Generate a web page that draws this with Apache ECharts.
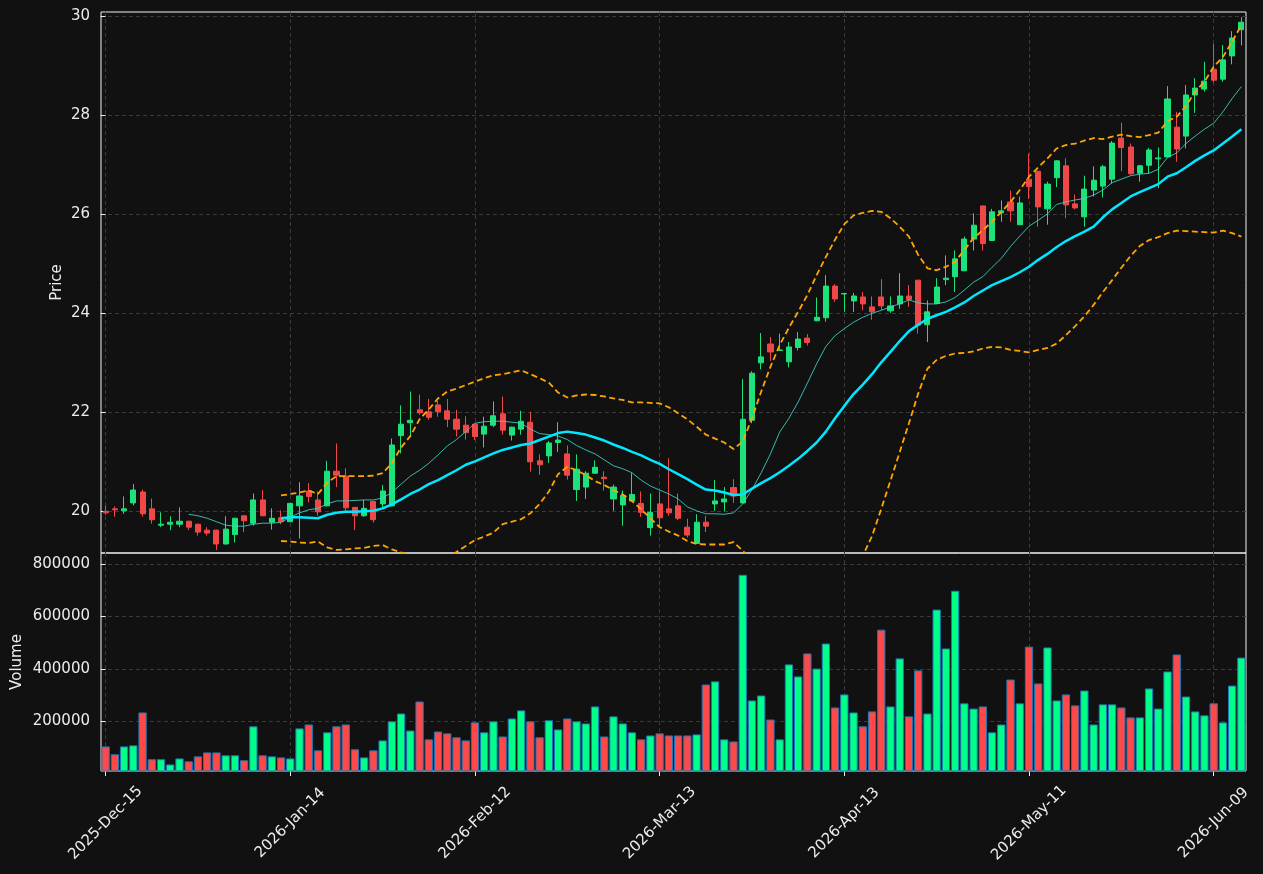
<!DOCTYPE html>
<html>
<head>
<meta charset="utf-8">
<script src="https://cdn.jsdelivr.net/npm/echarts@6/dist/echarts.min.js"></script>
<style>
  html, body { margin: 0; padding: 0; background: #111111; }
  #chart { width: 1263px; height: 874px; }
</style>
</head>
<body>
<div id="chart"></div>
<script>
// x ticks every 20 trading days
const tickIndex = [0, 20, 40, 60, 80, 100, 120];
const tickLabels = ['2025-Dec-15', '2026-Jan-14', '2026-Feb-12', '2026-Mar-13', '2026-Apr-13', '2026-May-11', '2026-Jun-09'];
const priceTicks = [20, 22, 24, 26, 28, 30];
const volumeTicks = [200000, 400000, 600000, 800000];

const opens = [
  20.00, 20.05, 20.01, 20.17, 20.39, 20.05, 19.72, 19.74, 19.74, 19.80,
  19.74, 19.62, 19.62, 19.34, 19.53, 19.91, 19.76, 20.23, 19.78, 19.87,
  19.79, 20.11, 20.41, 20.23, 20.11, 20.81, 20.71, 20.08, 19.91, 20.20,
  20.15, 20.11, 21.53, 21.79, 22.05, 22.01, 22.15, 22.03, 21.86, 21.74,
  21.76, 21.56, 21.74, 21.97, 21.54, 21.66, 21.80, 21.02, 21.12, 21.39,
  21.16, 20.44, 20.49, 20.77, 20.69, 20.25, 20.13, 20.21, 20.16, 19.67,
  20.15, 20.05, 20.11, 19.68, 19.35, 19.78, 20.15, 20.19, 20.48, 20.17,
  21.84, 23.00, 23.38, 23.25, 23.02, 23.31, 23.50, 23.85, 23.91, 24.55,
  24.39, 24.25, 24.33, 24.13, 24.33, 24.05, 24.19, 24.35, 24.67, 23.77,
  24.20, 24.68, 24.74, 24.86, 25.50, 26.17, 25.47, 26.03, 26.25, 25.79,
  26.71, 26.87, 26.11, 26.74, 26.98, 26.21, 25.95, 26.49, 26.57, 26.71,
  27.54, 27.36, 26.83, 26.99, 27.12, 27.16, 27.76, 27.58, 28.41, 28.53,
  28.93, 28.73, 29.20, 29.73
];
const closes = [
  19.97, 20.03, 20.05, 20.43, 19.95, 19.83, 19.74, 19.78, 19.80, 19.68,
  19.58, 19.56, 19.34, 19.64, 19.86, 19.81, 20.23, 19.91, 19.86, 19.79,
  20.16, 20.31, 20.30, 19.99, 20.81, 20.73, 20.07, 19.91, 20.06, 19.83,
  20.41, 21.34, 21.76, 21.84, 21.99, 21.90, 22.01, 21.86, 21.66, 21.59,
  21.51, 21.72, 21.93, 21.64, 21.70, 21.82, 21.00, 20.94, 21.38, 21.44,
  20.73, 20.85, 20.77, 20.89, 20.66, 20.49, 20.32, 20.34, 19.98, 19.98,
  19.87, 19.97, 19.86, 19.52, 19.78, 19.70, 20.21, 20.25, 20.31, 21.86,
  22.79, 23.12, 23.22, 23.26, 23.32, 23.48, 23.41, 23.92, 24.55, 24.29,
  24.40, 24.35, 24.19, 24.03, 24.15, 24.15, 24.35, 24.28, 23.76, 24.03,
  24.53, 24.71, 25.10, 25.50, 25.78, 25.41, 26.05, 26.07, 26.07, 26.23,
  26.56, 26.15, 26.61, 27.08, 26.19, 26.13, 26.51, 26.69, 26.96, 27.44,
  27.35, 26.82, 26.98, 27.30, 27.14, 28.33, 27.32, 28.41, 28.55, 28.69,
  28.71, 29.12, 29.56, 29.88
];
const lows = [
  19.93, 19.89, 19.95, 20.12, 19.89, 19.75, 19.68, 19.62, 19.68, 19.62,
  19.51, 19.51, 19.22, 19.33, 19.37, 19.58, 19.71, 19.90, 19.63, 19.74,
  19.78, 19.45, 20.18, 19.91, 20.10, 20.49, 19.99, 19.62, 19.89, 19.77,
  20.08, 20.10, 21.17, 21.54, 21.95, 21.85, 21.91, 21.70, 21.51, 21.45,
  21.44, 21.29, 21.70, 21.55, 21.43, 21.55, 20.80, 20.74, 20.98, 21.20,
  20.64, 20.21, 20.25, 20.76, 20.42, 20.01, 19.71, 20.20, 19.89, 19.51,
  19.69, 19.91, 19.82, 19.47, 19.35, 19.58, 20.01, 20.00, 20.17, 20.16,
  21.78, 22.87, 23.04, 23.25, 22.91, 23.25, 23.35, 23.84, 23.83, 24.23,
  24.03, 24.03, 24.06, 23.87, 24.07, 24.01, 24.09, 24.13, 23.59, 23.42,
  24.19, 24.57, 24.43, 24.85, 25.27, 25.27, 25.46, 25.85, 25.85, 25.78,
  26.31, 25.75, 25.79, 26.55, 25.92, 26.10, 25.75, 26.36, 26.34, 26.62,
  26.87, 26.80, 26.66, 26.82, 26.53, 27.15, 27.06, 27.33, 28.05, 28.48,
  28.66, 28.68, 29.03, 29.41
];
const highs = [
  20.11, 20.10, 20.30, 20.55, 20.44, 20.26, 19.98, 19.90, 20.08, 19.81,
  19.75, 19.68, 19.63, 19.90, 19.87, 19.91, 20.36, 20.43, 20.06, 20.02,
  20.17, 20.59, 20.57, 20.40, 21.02, 21.37, 20.87, 20.08, 20.23, 20.20,
  20.53, 21.47, 22.14, 22.42, 22.36, 22.27, 22.23, 22.27, 22.05, 21.92,
  21.76, 21.91, 22.22, 22.32, 21.71, 22.03, 22.01, 21.15, 21.42, 21.80,
  21.33, 21.15, 20.81, 21.03, 20.81, 20.54, 20.42, 20.77, 20.40, 20.36,
  20.40, 21.07, 20.36, 19.85, 19.94, 19.91, 20.63, 20.49, 20.65, 22.67,
  22.83, 23.60, 23.52, 23.59, 23.42, 23.62, 23.58, 24.32, 24.77, 24.59,
  24.41, 24.41, 24.43, 24.34, 24.69, 24.34, 24.81, 24.57, 24.67, 24.26,
  24.71, 25.17, 25.27, 25.55, 26.02, 26.17, 26.11, 26.28, 26.48, 26.36,
  27.23, 26.88, 26.66, 27.09, 27.13, 26.40, 26.78, 26.97, 27.00, 27.48,
  27.85, 27.43, 27.00, 27.34, 27.35, 28.59, 28.07, 28.61, 28.75, 29.08,
  29.44, 29.42, 29.70, 29.98
];
const volumes = [
  103000, 73000, 103000, 107000, 233000, 54000, 54000, 34000, 57000, 46000,
  65000, 80000, 80000, 69000, 69000, 50000, 180000, 69000, 65000, 61000,
  57000, 172000, 187000, 88000, 157000, 180000, 187000, 92000, 61000, 88000,
  126000, 199000, 229000, 164000, 275000, 130000, 160000, 153000, 138000, 126000,
  195000, 157000, 199000, 141000, 210000, 241000, 199000, 138000, 203000, 168000,
  210000, 199000, 191000, 256000, 141000, 218000, 191000, 157000, 130000, 145000,
  153000, 145000, 145000, 145000, 149000, 340000, 352000, 130000, 122000, 760000,
  279000, 298000, 206000, 130000, 417000, 371000, 459000, 401000, 497000, 252000,
  302000, 233000, 180000, 237000, 550000, 256000, 440000, 218000, 394000, 229000,
  627000, 478000, 699000, 268000, 248000, 256000, 157000, 187000, 359000, 268000,
  485000, 344000, 482000, 279000, 302000, 260000, 317000, 187000, 264000, 264000,
  252000, 214000, 214000, 325000, 248000, 390000, 455000, 294000, 237000, 222000,
  268000, 195000, 336000, 443000
];

// moving averages and bands, starting at these bar indices
const ma10Start = 9;
const ma10 = [
  19.94, 19.91, 19.86, 19.79, 19.72, 19.70, 19.70, 19.74, 19.76, 19.76,
  19.78, 19.88, 19.97, 20.03, 20.06, 20.15, 20.21, 20.21, 20.22, 20.23,
  20.23, 20.27, 20.38, 20.55, 20.71, 20.83, 20.97, 21.14, 21.32, 21.45,
  21.61, 21.78, 21.81, 21.82, 21.82, 21.80, 21.78, 21.66, 21.57, 21.55,
  21.52, 21.45, 21.33, 21.24, 21.16, 21.04, 20.92, 20.86, 20.78, 20.63,
  20.51, 20.43, 20.35, 20.25, 20.09, 20.01, 19.95, 19.95, 19.94, 19.97,
  20.15, 20.44, 20.78, 21.16, 21.60, 21.88, 22.21, 22.59, 22.98, 23.33,
  23.55, 23.69, 23.82, 23.92, 24.00, 24.06, 24.13, 24.19, 24.27, 24.21,
  24.19, 24.19, 24.23, 24.32, 24.47, 24.63, 24.74, 24.93, 25.11, 25.35,
  25.56, 25.76, 25.88, 26.01, 26.20, 26.25, 26.29, 26.32, 26.39, 26.49,
  26.64, 26.71, 26.78, 26.81, 26.83, 26.91, 27.15, 27.24, 27.43, 27.58,
  27.72, 27.84, 28.07, 28.34, 28.58
];
const ma20Start = 19;
const ma20 = [
  19.86, 19.88, 19.88, 19.87, 19.86, 19.93, 19.97, 19.99, 19.99, 20.00,
  20.01, 20.06, 20.14, 20.24, 20.35, 20.44, 20.55, 20.63, 20.73, 20.83,
  20.94, 21.01, 21.09, 21.17, 21.24, 21.29, 21.34, 21.37, 21.44, 21.51,
  21.58, 21.61, 21.58, 21.55, 21.49, 21.43, 21.35, 21.28, 21.20, 21.13,
  21.04, 20.96, 20.85, 20.75, 20.65, 20.54, 20.44, 20.42, 20.38, 20.33,
  20.34, 20.46, 20.57, 20.67, 20.79, 20.92, 21.06, 21.22, 21.39, 21.61,
  21.88, 22.13, 22.37, 22.56, 22.77, 23.01, 23.22, 23.44, 23.64, 23.77,
  23.89, 23.96, 24.03, 24.12, 24.22, 24.35, 24.46, 24.57, 24.65, 24.73,
  24.83, 24.94, 25.08, 25.20, 25.34, 25.46, 25.56, 25.65, 25.75, 25.94,
  26.10, 26.23, 26.36, 26.45, 26.53, 26.61, 26.76, 26.83, 26.95, 27.08,
  27.19, 27.29, 27.43, 27.57, 27.72
];
const bandStart = 19;
const bandUpper = [
  20.32, 20.35, 20.38, 20.42, 20.35, 20.58, 20.71, 20.71, 20.71, 20.71,
  20.72, 20.77, 20.97, 21.29, 21.52, 21.86, 22.06, 22.28, 22.42, 22.48,
  22.55, 22.62, 22.69, 22.75, 22.77, 22.81, 22.85, 22.77, 22.69, 22.60,
  22.40, 22.30, 22.34, 22.36, 22.35, 22.32, 22.28, 22.25, 22.20, 22.20,
  22.19, 22.18, 22.10, 21.98, 21.86, 21.71, 21.55, 21.47, 21.39, 21.26,
  21.41, 21.88, 22.42, 22.92, 23.36, 23.71, 24.03, 24.37, 24.77, 25.14,
  25.49, 25.80, 25.98, 26.03, 26.07, 26.05, 25.92, 25.75, 25.55, 25.18,
  24.91, 24.87, 24.94, 25.04, 25.28, 25.52, 25.68, 25.85, 26.05, 26.25,
  26.49, 26.76, 26.95, 27.13, 27.33, 27.40, 27.43, 27.49, 27.54, 27.52,
  27.57, 27.61, 27.58, 27.56, 27.60, 27.65, 27.88, 27.97, 28.19, 28.48,
  28.68, 28.98, 29.18, 29.49, 29.82
];
const bandLower = [
  19.40, 19.39, 19.37, 19.36, 19.39, 19.27, 19.22, 19.23, 19.25, 19.26,
  19.30, 19.32, 19.23, 19.17, 19.12, 19.02, 19.04, 18.98, 19.04, 19.18,
  19.30, 19.42, 19.49, 19.57, 19.74, 19.79, 19.84, 19.96, 20.15, 20.40,
  20.75, 20.90, 20.83, 20.73, 20.61, 20.53, 20.43, 20.34, 20.21, 20.04,
  19.86, 19.68, 19.59, 19.51, 19.40, 19.34, 19.33, 19.33, 19.33, 19.38,
  19.20, 19.04, 18.72, 18.42, 18.22, 18.13, 18.09, 18.07, 17.97, 18.08,
  18.31, 18.42, 18.76, 19.10, 19.50, 20.05, 20.62, 21.20, 21.78, 22.38,
  22.88, 23.06, 23.14, 23.19, 23.20, 23.23, 23.29, 23.32, 23.31, 23.26,
  23.24, 23.21, 23.26, 23.30, 23.39, 23.56, 23.74, 23.94, 24.17, 24.43,
  24.67, 24.92, 25.16, 25.36, 25.48, 25.54, 25.62, 25.67, 25.66, 25.65,
  25.64, 25.63, 25.67, 25.62, 25.55
];

const UP = '#1de27c';
const DOWN = '#f04848';
const VOL_UP = '#00ff88';
const VOL_DOWN = '#ff4848';
const FONT = 'DejaVu Sans';
const TEXT = '#ececec';

function lineSeries(name, start, values, style) {
  return {
    name,
    type: 'line',
    xAxisIndex: 0,
    yAxisIndex: 0,
    showSymbol: false,
    silent: true,
    clip: true,
    lineStyle: style,
    z: 3,
    data: values.map((v, i) => [start + i, v]),
  };
}

function gridAxisX(gridIndex, showLabels) {
  return {
    type: 'value',
    gridIndex,
    min: -0.5,
    max: opens.length - 0.5,
    axisLine: { show: false },
    axisTick: {
      show: showLabels,
      customValues: tickIndex,
      length: 5,
      lineStyle: { color: TEXT, width: 1 },
    },
    axisLabel: {
      show: showLabels,
      customValues: tickIndex,
      rotate: 45,
      align: 'center',
      verticalAlign: 'middle',
      margin: 52,
      color: TEXT,
      fontFamily: FONT,
      fontSize: 15,
      formatter: v => tickLabels[tickIndex.indexOf(Math.round(v))] || '',
    },
    splitLine: {
      show: true,
      lineStyle: { color: '#3a3a3a', type: [4, 3], width: 1 },
    },
  };
}

function gridAxisY(gridIndex, name, min, max, ticks, nameGap) {
  return {
    type: 'value',
    gridIndex,
    min,
    max,
    name,
    nameLocation: 'middle',
    nameRotate: 90,
    nameGap,
    nameMoveOverlap: false,
    nameTextStyle: { color: TEXT, fontFamily: FONT, fontSize: 15 },
    axisLine: { show: false },
    axisTick: {
      show: true,
      customValues: ticks,
      length: 5,
      lineStyle: { color: TEXT, width: 1 },
    },
    axisLabel: {
      customValues: ticks,
      color: TEXT,
      fontFamily: FONT,
      fontSize: 15,
      margin: 11,
      formatter: v => String(v),
    },
    splitLine: {
      show: true,
      lineStyle: { color: '#3a3a3a', type: [4, 3], width: 1 },
    },
  };
}

const candles = opens.map((o, i) => [i, o, closes[i], lows[i], highs[i]]);
const volumeBars = volumes.map((v, i) => ({
  value: [i, v],
  itemStyle: { color: closes[i] >= opens[i] ? VOL_UP : VOL_DOWN },
}));

const option = {
  backgroundColor: '#111111',
  animation: false,
  grid: [
    { left: 101, right: 17, top: 12, height: 541, show: true, borderColor: '#f2f2f2', borderWidth: 1, backgroundColor: 'transparent' },
    { left: 101, right: 17, top: 553, height: 218, show: true, borderColor: '#f2f2f2', borderWidth: 1, backgroundColor: 'transparent' },
  ],
  xAxis: [gridAxisX(0, false), gridAxisX(1, true)],
  yAxis: [
    gridAxisY(0, 'Price', 19.158, 30.087, priceTicks, 36),
    gridAxisY(1, 'Volume', 8850, 843500, volumeTicks, 76),
  ],
  series: [
    {
      type: 'candlestick',
      xAxisIndex: 0,
      yAxisIndex: 0,
      barWidth: 5.6,
      z: 2,
      itemStyle: {
        color: UP,
        color0: DOWN,
        borderColor: UP,
        borderColor0: DOWN,
        borderWidth: 1,
      },
      data: candles,
    },
    lineSeries('MA10', ma10Start, ma10, { color: 'rgba(64,214,200,0.85)', width: 1 }),
    lineSeries('MA20', ma20Start, ma20, { color: '#00e8ff', width: 2.5 }),
    lineSeries('Upper', bandStart, bandUpper, { color: '#ffa500', width: 1.8, type: [6, 3.5] }),
    lineSeries('Lower', bandStart, bandLower, { color: '#ffa500', width: 1.8, type: [6, 3.5] }),
    {
      type: 'bar',
      xAxisIndex: 1,
      yAxisIndex: 1,
      barWidth: 8.3,
      clip: true,
      itemStyle: { borderColor: '#1f77b4', borderWidth: 1 },
      data: volumeBars,
    },
  ],
};

const chart = echarts.init(document.getElementById('chart'));
chart.setOption(option);
</script>
</body>
</html>
